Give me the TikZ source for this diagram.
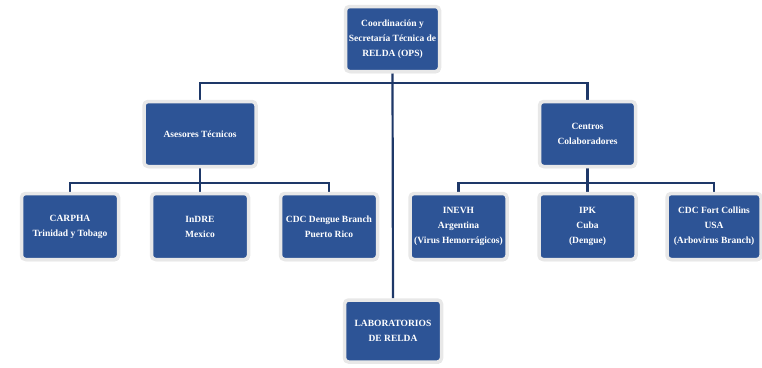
\documentclass[tikz,border=0pt]{standalone}
\usepackage{fontspec}
\setmainfont{Liberation Serif}
\usetikzlibrary{shadows, backgrounds}

\definecolor{boxblue}{RGB}{45,84,150}
\definecolor{linenavy}{RGB}{30,56,104}

\begin{document}
\begin{tikzpicture}[
    x=1pt, y=-1pt,
    box/.style={rectangle, draw=black!9, line width=3.5pt, fill=boxblue, rounded corners=4pt,
        text=white, align=center, font=\fontsize{9.5}{15}\selectfont\bfseries,
        minimum width=97pt, minimum height=66pt, inner sep=1pt,
        drop shadow={shadow xshift=1pt, shadow yshift=-1.5pt, fill=black!35, opacity=0.5}},
    conn/.style={draw=linenavy, line width=2.2pt}
]
    \useasboundingbox (0,0) rectangle (762,367);

    \node[box, minimum width=94pt, minimum height=65pt] (coord) at (392.5,39) {Coordinación y\\Secretaría Técnica de\\RELDA (OPS)};
    \node[box, minimum width=112pt, minimum height=65pt] (ases) at (200,134) {Asesores Técnicos};
    \node[box, minimum width=96pt, minimum height=65pt] (centros) at (587.5,134) {Centros\\Colaboradores};

    \node[box] (carpha) at (70,226.5) {CARPHA\\Trinidad y Tobago};
    \node[box] (indre) at (200,226.5) {InDRE\\Mexico};
    \node[box] (cdcpr) at (329,226.5) {CDC Dengue Branch\\Puerto Rico};

    \node[box] (inevh) at (458.5,226.5) {INEVH\\Argentina\\(Virus Hemorrágicos)};
    \node[box] (ipk) at (587.5,226.5) {IPK\\Cuba\\(Dengue)};
    \node[box, minimum width=94pt] (cdcfc) at (714,226.5) {CDC Fort Collins\\USA\\(Arbovirus Branch)};

    \node[box, minimum height=62pt] (labs) at (393,331) {LABORATORIOS\\DE RELDA};

    % links behind the boxes
    \begin{pgfonlayer}{background}
        \draw[conn] (coord.south) -- (labs.north);
        \draw[conn] (ases.north) -- ++(0,-17) -| (centros.north);
        \draw[conn] (ases.south) -- ++(0,15) coordinate (leftjoin);
        \draw[conn] (carpha.north) |- (leftjoin) -| (cdcpr.north);
        \draw[conn] (leftjoin) -- (indre.north);
        \draw[conn] (centros.south) -- ++(0,15) coordinate (rightjoin);
        \draw[conn] (inevh.north) |- (rightjoin) -| (cdcfc.north);
        \draw[conn] (rightjoin) -- (ipk.north);
    \end{pgfonlayer}
\end{tikzpicture}
\end{document}
